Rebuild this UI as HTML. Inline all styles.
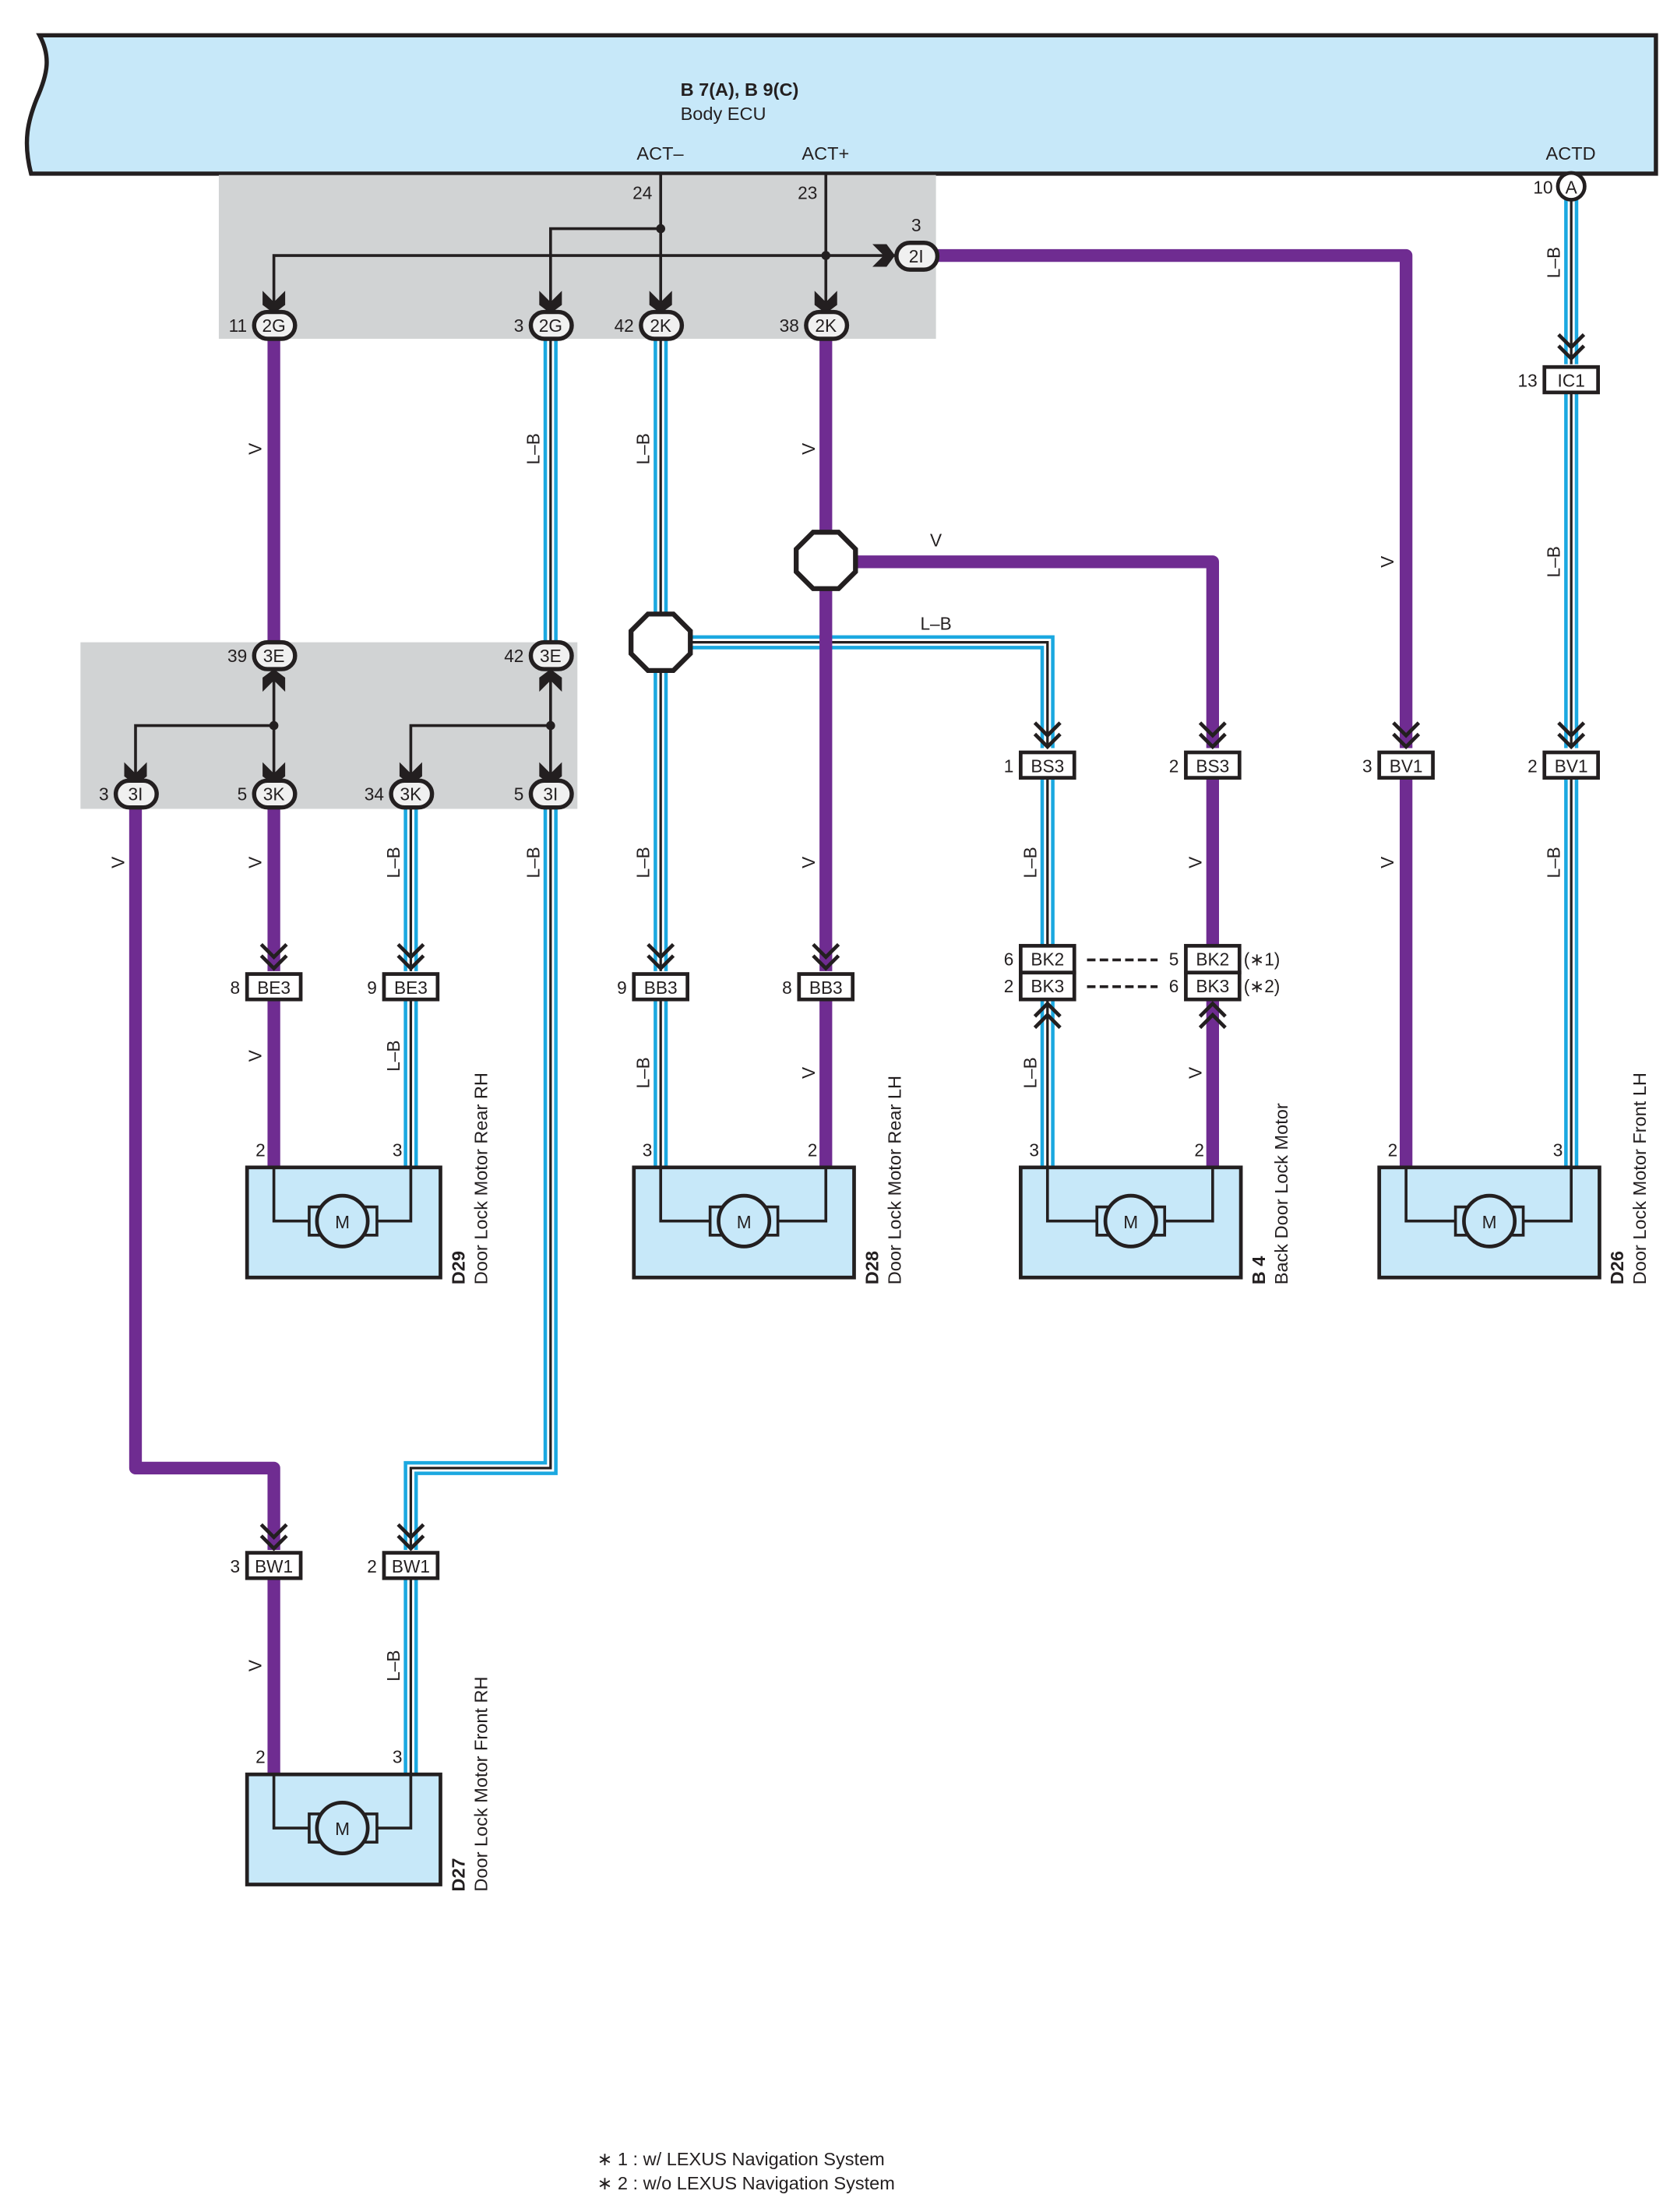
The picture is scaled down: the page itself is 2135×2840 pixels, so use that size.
<!DOCTYPE html>
<html><head><meta charset="utf-8"><style>
html,body{margin:0;padding:0;background:#fff}
svg{display:block}
text{font-family:"Liberation Sans",Arial,sans-serif;fill:#231f20}
.p{fill:none;stroke:#6f2c91;stroke-width:9;stroke-linejoin:round}
.b1{fill:none;stroke:#1ba8e0;stroke-width:10}
.b2{fill:none;stroke:#fff;stroke-width:5}
.b3{fill:none;stroke:#231f20;stroke-width:1.8}
.k{fill:none;stroke:#231f20;stroke-width:2}
.ch{fill:none;stroke:#231f20;stroke-width:2.6}
.pill{fill:#f0f0f0;stroke:#231f20;stroke-width:3}
.box{fill:#fff;stroke:#231f20;stroke-width:2.6}
.mb{fill:#c7e8f9;stroke:#231f20;stroke-width:2.6}
.t{font-size:12.5px}
.s{font-size:13px}
</style></head><body>
<svg width="2135" height="2840" viewBox="0 0 1178 1567" xmlns="http://www.w3.org/2000/svg">
<defs>
<path id="L1" d="M390,240 V455"/>
<path id="L2" d="M468,240 V688"/>
<path id="L3" d="M468,455 H742 V530"/>
<path id="L4" d="M1113,141 V258 M1113,278 V530 M1113,551 V827"/>
<path id="L5" d="M291,572 V688 M291,708 V827"/>
<path id="L6" d="M390,572 V1040 H291 V1098 M291,1118 V1257"/>
<path id="L7" d="M468,708 V827"/>
<path id="L8" d="M742,551 V670 M742,708 V827"/>
</defs>
<path d="M28,25 H1173 V123 H22 C16,100 20,85 26,70 C34,52 36,40 28,25 Z" fill="#c7e8f9" stroke="#231f20" stroke-width="3"/>
<text x="482" y="68" class="s" style="font-weight:bold">B 7(A), B 9(C)</text>
<text x="482" y="85" class="s">Body ECU</text>
<text x="451" y="113" class="s">ACT–</text>
<text x="568" y="113" class="s">ACT+</text>
<text x="1095" y="113" class="s">ACTD</text>
<rect x="155" y="124" width="508" height="116" fill="#d1d3d4"/>
<rect x="57" y="455" width="352" height="118" fill="#d1d3d4"/>

<g>
<use href="#L1" class="b1"/><use href="#L1" class="b2"/><use href="#L1" class="b3"/>
<use href="#L2" class="b1"/><use href="#L2" class="b2"/><use href="#L2" class="b3"/>
<use href="#L3" class="b1"/><use href="#L3" class="b2"/><use href="#L3" class="b3"/>
<use href="#L4" class="b1"/><use href="#L4" class="b2"/><use href="#L4" class="b3"/>
<use href="#L5" class="b1"/><use href="#L5" class="b2"/><use href="#L5" class="b3"/>
<use href="#L6" class="b1"/><use href="#L6" class="b2"/><use href="#L6" class="b3"/>
<use href="#L7" class="b1"/><use href="#L7" class="b2"/><use href="#L7" class="b3"/>
<use href="#L8" class="b1"/><use href="#L8" class="b2"/><use href="#L8" class="b3"/>
</g>
<path class="p" d="M194,240 V455"/>
<path class="p" d="M585,240 V688"/>
<path class="p" d="M585,398 H859 V530"/>
<path class="p" d="M664,181 H996 V530"/>
<path class="p" d="M996,551 V827"/>
<path class="p" d="M96,572 V1040 H194 V1098 M194,1118 V1257"/>
<path class="p" d="M194,572 V688 M194,708 V827"/>
<path class="p" d="M585,708 V827"/>
<path class="p" d="M859,551 V670 M859,708 V827"/>

<path class="k" d="M468,123 V222 M585,123 V222 M468,162 H390 V222 M194,222 V181 H636"/>
<circle cx="468" cy="162" r="3.2" fill="#231f20"/>
<circle cx="585" cy="181" r="3.2" fill="#231f20"/>
<path class="k" d="M194,475 V555 M194,514 H96 V555 M390,475 V555 M390,514 H291 V555"/>
<circle cx="194" cy="514" r="3.2" fill="#231f20"/>
<circle cx="390" cy="514" r="3.2" fill="#231f20"/>
<g fill="#231f20">
<path d="M186,206 L194,214 L202,206 L202,216 L194,222 L186,216Z"/>
<path d="M382,206 L390,214 L398,206 L398,216 L390,222 L382,216Z"/>
<path d="M460,206 L468,214 L476,206 L476,216 L468,222 L460,216Z"/>
<path d="M577,206 L585,214 L593,206 L593,216 L585,222 L577,216Z"/>
<path d="M88,540 L96,548 L104,540 L104,550 L96,556 L88,550Z"/>
<path d="M186,540 L194,548 L202,540 L202,550 L194,556 L186,550Z"/>
<path d="M283,540 L291,548 L299,540 L299,550 L291,556 L283,550Z"/>
<path d="M382,540 L390,548 L398,540 L398,550 L390,556 L382,550Z"/>
<path d="M186,490 L194,482 L202,490 L202,480 L194,474 L186,480Z"/>
<path d="M382,490 L390,482 L398,490 L398,480 L390,474 L382,480Z"/>
<path d="M618,173 L626,181 L618,189 L628,189 L634,181 L628,173Z"/>
</g>

<g>
<rect x="180" y="221" width="29" height="19" rx="9.5" class="pill"/>
<rect x="376" y="221" width="29" height="19" rx="9.5" class="pill"/>
<rect x="454" y="221" width="29" height="19" rx="9.5" class="pill"/>
<rect x="571" y="221" width="29" height="19" rx="9.5" class="pill"/>
<rect x="635" y="172" width="29" height="19" rx="9.5" class="pill"/>
<rect x="180" y="455" width="29" height="19" rx="9.5" class="pill"/>
<rect x="376" y="455" width="29" height="19" rx="9.5" class="pill"/>
<rect x="82" y="553" width="29" height="19" rx="9.5" class="pill"/>
<rect x="180" y="553" width="29" height="19" rx="9.5" class="pill"/>
<rect x="277" y="553" width="29" height="19" rx="9.5" class="pill"/>
<rect x="376" y="553" width="29" height="19" rx="9.5" class="pill"/>
<circle cx="1113" cy="132" r="9.5" fill="#fff" stroke="#231f20" stroke-width="2.6"/>
</g>
<g class="t" text-anchor="middle">
<text x="194" y="235">2G</text><text x="390" y="235">2G</text><text x="468" y="235">2K</text><text x="585" y="235">2K</text>
<text x="649" y="186">2I</text><text x="194" y="469">3E</text><text x="390" y="469">3E</text>
<text x="96" y="567">3I</text><text x="194" y="567">3K</text><text x="291" y="567">3K</text><text x="390" y="567">3I</text>
<text x="1113" y="137">A</text>
</g>
<g class="t" text-anchor="end">
<text x="175" y="235">11</text><text x="371" y="235">3</text><text x="449" y="235">42</text><text x="566" y="235">38</text>
<text x="462" y="141">24</text><text x="579" y="141">23</text>
<text x="175" y="469">39</text><text x="371" y="469">42</text>
<text x="77" y="567">3</text><text x="175" y="567">5</text><text x="272" y="567">34</text><text x="371" y="567">5</text>
<text x="1100" y="137">10</text>
</g>
<text x="649" y="164" class="t" text-anchor="middle">3</text>

<polygon points="459,435 477,435 489,447 489,463 477,475 459,475 447,463 447,447" fill="#fff" stroke="#231f20" stroke-width="3.5"/>
<polygon points="576,377 594,377 606,389 606,405 594,417 576,417 564,405 564,389" fill="#fff" stroke="#231f20" stroke-width="3.5"/>

<g class="ch">
<path d="M1104,237 L1113,246 L1122,237 M1104,245 L1113,254 L1122,245"/>
<path d="M733,512 L742,521 L751,512 M733,520 L742,529 L751,520"/>
<path d="M850,512 L859,521 L868,512 M850,520 L859,529 L868,520"/>
<path d="M987,512 L996,521 L1005,512 M987,520 L996,529 L1005,520"/>
<path d="M1104,512 L1113,521 L1122,512 M1104,520 L1113,529 L1122,520"/>
<path d="M185,669 L194,678 L203,669 M185,677 L194,686 L203,677"/>
<path d="M282,669 L291,678 L300,669 M282,677 L291,686 L300,677"/>
<path d="M459,669 L468,678 L477,669 M459,677 L468,686 L477,677"/>
<path d="M576,669 L585,678 L594,669 M576,677 L585,686 L594,677"/>
<path d="M185,1080 L194,1089 L203,1080 M185,1088 L194,1097 L203,1088"/>
<path d="M282,1080 L291,1089 L300,1080 M282,1088 L291,1097 L300,1088"/>
<path d="M733,720 L742,711 L751,720 M733,728 L742,719 L751,728"/>
<path d="M850,720 L859,711 L868,720 M850,728 L859,719 L868,728"/>
</g>

<g>
<rect x="1094" y="260" width="38" height="18" class="box"/>
<rect x="723" y="533" width="38" height="18" class="box"/>
<rect x="840" y="533" width="38" height="18" class="box"/>
<rect x="977" y="533" width="38" height="18" class="box"/>
<rect x="1094" y="533" width="38" height="18" class="box"/>
<rect x="175" y="690" width="38" height="18" class="box"/>
<rect x="272" y="690" width="38" height="18" class="box"/>
<rect x="449" y="690" width="38" height="18" class="box"/>
<rect x="566" y="690" width="38" height="18" class="box"/>
<rect x="723" y="670" width="38" height="19" class="box"/>
<rect x="723" y="689" width="38" height="19" class="box"/>
<rect x="840" y="670" width="38" height="19" class="box"/>
<rect x="840" y="689" width="38" height="19" class="box"/>
<rect x="175" y="1100" width="38" height="18" class="box"/>
<rect x="272" y="1100" width="38" height="18" class="box"/>
</g>
<g class="t" text-anchor="middle">
<text x="1113" y="274">IC1</text>
<text x="742" y="547">BS3</text><text x="859" y="547">BS3</text><text x="996" y="547">BV1</text><text x="1113" y="547">BV1</text>
<text x="194" y="704">BE3</text><text x="291" y="704">BE3</text><text x="468" y="704">BB3</text><text x="585" y="704">BB3</text>
<text x="742" y="684">BK2</text><text x="742" y="703">BK3</text><text x="859" y="684">BK2</text><text x="859" y="703">BK3</text>
<text x="194" y="1114">BW1</text><text x="291" y="1114">BW1</text>
</g>
<g class="t" text-anchor="end">
<text x="1089" y="274">13</text>
<text x="718" y="547">1</text><text x="835" y="547">2</text><text x="972" y="547">3</text><text x="1089" y="547">2</text>
<text x="170" y="704">8</text><text x="267" y="704">9</text><text x="444" y="704">9</text><text x="561" y="704">8</text>
<text x="718" y="684">6</text><text x="718" y="703">2</text><text x="835" y="684">5</text><text x="835" y="703">6</text>
<text x="170" y="1114">3</text><text x="267" y="1114">2</text>
</g>
<text x="881" y="684" class="t">(∗1)</text>
<text x="881" y="703" class="t">(∗2)</text>
<path d="M770,680 H820 M770,699 H820" stroke="#231f20" stroke-width="2" stroke-dasharray="6,3"/>

<g>
<g transform="translate(175,827)">
<rect x="0" y="0" width="137" height="78" class="mb"/>
<path class="k" d="M19,0 V38 H44 M116,0 V38 H92"/>
<rect x="44" y="28" width="9" height="20" fill="none" stroke="#231f20" stroke-width="2"/>
<rect x="83" y="28" width="9" height="20" fill="none" stroke="#231f20" stroke-width="2"/>
<circle cx="67.5" cy="38" r="18" fill="#c7e8f9" stroke="#231f20" stroke-width="2.6"/>
<text x="67.5" y="43" class="t" text-anchor="middle">M</text>
</g>
<g transform="translate(449,827)">
<rect x="0" y="0" width="156" height="78" class="mb"/>
<path class="k" d="M19,0 V38 H54 M136,0 V38 H102"/>
<rect x="54" y="28" width="9" height="20" fill="none" stroke="#231f20" stroke-width="2"/>
<rect x="93" y="28" width="9" height="20" fill="none" stroke="#231f20" stroke-width="2"/>
<circle cx="78" cy="38" r="18" fill="#c7e8f9" stroke="#231f20" stroke-width="2.6"/>
<text x="78" y="43" class="t" text-anchor="middle">M</text>
</g>
<g transform="translate(723,827)">
<rect x="0" y="0" width="156" height="78" class="mb"/>
<path class="k" d="M19,0 V38 H54 M136,0 V38 H102"/>
<rect x="54" y="28" width="9" height="20" fill="none" stroke="#231f20" stroke-width="2"/>
<rect x="93" y="28" width="9" height="20" fill="none" stroke="#231f20" stroke-width="2"/>
<circle cx="78" cy="38" r="18" fill="#c7e8f9" stroke="#231f20" stroke-width="2.6"/>
<text x="78" y="43" class="t" text-anchor="middle">M</text>
</g>
<g transform="translate(977,827)">
<rect x="0" y="0" width="156" height="78" class="mb"/>
<path class="k" d="M19,0 V38 H54 M136,0 V38 H102"/>
<rect x="54" y="28" width="9" height="20" fill="none" stroke="#231f20" stroke-width="2"/>
<rect x="93" y="28" width="9" height="20" fill="none" stroke="#231f20" stroke-width="2"/>
<circle cx="78" cy="38" r="18" fill="#c7e8f9" stroke="#231f20" stroke-width="2.6"/>
<text x="78" y="43" class="t" text-anchor="middle">M</text>
</g>
<g transform="translate(175,1257)">
<rect x="0" y="0" width="137" height="78" class="mb"/>
<path class="k" d="M19,0 V38 H44 M116,0 V38 H92"/>
<rect x="44" y="28" width="9" height="20" fill="none" stroke="#231f20" stroke-width="2"/>
<rect x="83" y="28" width="9" height="20" fill="none" stroke="#231f20" stroke-width="2"/>
<circle cx="67.5" cy="38" r="18" fill="#c7e8f9" stroke="#231f20" stroke-width="2.6"/>
<text x="67.5" y="43" class="t" text-anchor="middle">M</text>
</g>
</g>
<g class="t" text-anchor="end">
<text x="188" y="819">2</text><text x="285" y="819">3</text>
<text x="462" y="819">3</text><text x="579" y="819">2</text>
<text x="736" y="819">3</text><text x="853" y="819">2</text>
<text x="990" y="819">2</text><text x="1107" y="819">3</text>
<text x="188" y="1249">2</text><text x="285" y="1249">3</text>
</g>
<g class="s">
<text transform="translate(329,910) rotate(-90)"><tspan style="font-weight:bold">D29</tspan></text>
<text transform="translate(345,910) rotate(-90)">Door Lock Motor Rear RH</text>
<text transform="translate(622,910) rotate(-90)"><tspan style="font-weight:bold">D28</tspan></text>
<text transform="translate(638,910) rotate(-90)">Door Lock Motor Rear LH</text>
<text transform="translate(896,910) rotate(-90)"><tspan style="font-weight:bold">B 4</tspan></text>
<text transform="translate(912,910) rotate(-90)">Back Door Lock Motor</text>
<text transform="translate(1150,910) rotate(-90)"><tspan style="font-weight:bold">D26</tspan></text>
<text transform="translate(1166,910) rotate(-90)">Door Lock Motor Front LH</text>
<text transform="translate(329,1340) rotate(-90)"><tspan style="font-weight:bold">D27</tspan></text>
<text transform="translate(345,1340) rotate(-90)">Door Lock Motor Front RH</text>
</g>
<g class="t" text-anchor="middle">
<text transform="translate(185,318) rotate(-90)">V</text>
<text transform="translate(382,318) rotate(-90)">L–B</text>
<text transform="translate(460,318) rotate(-90)">L–B</text>
<text transform="translate(577,318) rotate(-90)">V</text>
<text transform="translate(987,398) rotate(-90)">V</text>
<text transform="translate(1105,186) rotate(-90)">L–B</text>
<text transform="translate(1105,398) rotate(-90)">L–B</text>
<text transform="translate(88,611) rotate(-90)">V</text>
<text transform="translate(185,611) rotate(-90)">V</text>
<text transform="translate(283,611) rotate(-90)">L–B</text>
<text transform="translate(382,611) rotate(-90)">L–B</text>
<text transform="translate(460,611) rotate(-90)">L–B</text>
<text transform="translate(577,611) rotate(-90)">V</text>
<text transform="translate(734,611) rotate(-90)">L–B</text>
<text transform="translate(851,611) rotate(-90)">V</text>
<text transform="translate(987,611) rotate(-90)">V</text>
<text transform="translate(1105,611) rotate(-90)">L–B</text>
<text transform="translate(185,748) rotate(-90)">V</text>
<text transform="translate(283,748) rotate(-90)">L–B</text>
<text transform="translate(460,760) rotate(-90)">L–B</text>
<text transform="translate(577,760) rotate(-90)">V</text>
<text transform="translate(734,760) rotate(-90)">L–B</text>
<text transform="translate(851,760) rotate(-90)">V</text>
<text transform="translate(185,1180) rotate(-90)">V</text>
<text transform="translate(283,1180) rotate(-90)">L–B</text>
<text x="663" y="387">V</text>
<text x="663" y="446">L–B</text>
</g>
<text x="423" y="1534" class="s">∗ 1 : w/ LEXUS Navigation System</text>
<text x="423" y="1551" class="s">∗ 2 : w/o LEXUS Navigation System</text>
</svg>
</body></html>
